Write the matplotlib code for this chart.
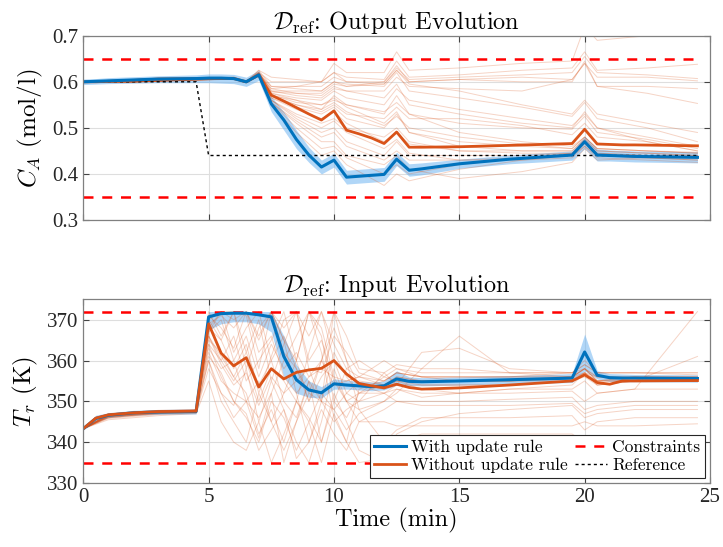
import numpy as np
import matplotlib
matplotlib.use("Agg")
import matplotlib.pyplot as plt

plt.rcParams["mathtext.fontset"] = "cm"
plt.rcParams["font.family"] = ["Liberation Serif", "DejaVu Serif"]

BLUE = "#0072BD"
ORANGE = "#D95319"

# ---- time grids ----
t_mean = [0, 0.5, 1, 2, 3, 4.5, 5, 5.5, 6, 6.5, 7, 7.5, 8, 8.5, 9, 9.5, 10, 10.5, 11, 11.5,
          12, 12.5, 13, 13.5, 15, 17, 19.5, 20, 20.5, 21, 21.5, 22, 24.5]
t_thin_top = [0, 2, 4.5, 6, 6.5, 7, 7.5, 8.5, 9.5, 10, 10.5, 12, 12.5, 13, 15, 17.5, 19.5, 20, 20.5, 22.5, 24.5]
t_thin_bot = [0, 1, 3, 4.5, 5, 5.5, 6, 6.5, 7, 7.5, 8, 8.5, 9, 9.5, 10, 10.5, 11, 12, 12.5, 13.5,
              15, 17, 19.5, 20, 20.5, 22, 24.5]

# ---- output C_A ----
ca_with = [0.600, 0.601, 0.602, 0.604, 0.606, 0.607, 0.608, 0.608, 0.607, 0.600, 0.615, 0.552, 0.517,
           0.475, 0.441, 0.415, 0.430, 0.393, 0.395, 0.397, 0.399, 0.432, 0.408, 0.411, 0.422, 0.432,
           0.441, 0.470, 0.441, 0.440, 0.439, 0.438, 0.436]
ca_with_lo = [0.594, 0.595, 0.596, 0.597, 0.598, 0.598, 0.598, 0.597, 0.596, 0.590, 0.603, 0.535, 0.495,
              0.455, 0.425, 0.400, 0.415, 0.378, 0.380, 0.382, 0.384, 0.418, 0.395, 0.398, 0.412, 0.422,
              0.430, 0.455, 0.428, 0.428, 0.427, 0.426, 0.424]
ca_with_hi = [0.606, 0.607, 0.609, 0.611, 0.613, 0.615, 0.617, 0.617, 0.616, 0.610, 0.625, 0.568, 0.535,
              0.495, 0.458, 0.430, 0.445, 0.408, 0.410, 0.412, 0.414, 0.447, 0.422, 0.424, 0.432, 0.441,
              0.450, 0.482, 0.454, 0.452, 0.451, 0.450, 0.448]
ca_without = [0.600, 0.600, 0.601, 0.603, 0.606, 0.607, 0.607, 0.607, 0.607, 0.600, 0.615, 0.571, 0.558,
              0.544, 0.530, 0.517, 0.537, 0.495, 0.487, 0.478, 0.466, 0.491, 0.458, 0.458, 0.459, 0.462,
              0.466, 0.497, 0.465, 0.464, 0.463, 0.463, 0.461]

ca_runs = [
    [0.60, 0.602, 0.605, 0.61, 0.60, 0.625, 0.61, 0.605, 0.60, 0.64, 0.62, 0.62, 0.665, 0.625, 0.63, 0.64, 0.645, 0.72, 0.69, 0.70, 0.73],
    [0.60, 0.600, 0.606, 0.61, 0.602, 0.62, 0.60, 0.60, 0.60, 0.62, 0.61, 0.605, 0.645, 0.61, 0.615, 0.625, 0.63, 0.665, 0.625, 0.63, 0.638],
    [0.60, 0.603, 0.605, 0.607, 0.60, 0.618, 0.59, 0.585, 0.58, 0.60, 0.59, 0.60, 0.63, 0.605, 0.61, 0.615, 0.62, 0.655, 0.62, 0.615, 0.607],
    [0.60, 0.600, 0.604, 0.606, 0.598, 0.615, 0.585, 0.575, 0.575, 0.595, 0.59, 0.595, 0.625, 0.60, 0.605, 0.61, 0.605, 0.64, 0.61, 0.61, 0.602],
    [0.60, 0.601, 0.606, 0.608, 0.60, 0.62, 0.58, 0.57, 0.565, 0.585, 0.58, 0.58, 0.61, 0.59, 0.585, 0.58, 0.605, 0.64, 0.59, 0.575, 0.553],
    [0.60, 0.600, 0.605, 0.607, 0.598, 0.612, 0.575, 0.56, 0.55, 0.56, 0.55, 0.535, 0.555, 0.53, 0.51, 0.50, 0.497, 0.525, 0.49, 0.475, 0.455],
    [0.60, 0.601, 0.605, 0.608, 0.60, 0.616, 0.57, 0.55, 0.535, 0.55, 0.53, 0.52, 0.545, 0.52, 0.52, 0.505, 0.485, 0.51, 0.48, 0.47, 0.45],
    [0.60, 0.600, 0.604, 0.607, 0.60, 0.614, 0.565, 0.545, 0.53, 0.545, 0.52, 0.50, 0.53, 0.49, 0.47, 0.46, 0.455, 0.48, 0.455, 0.45, 0.445],
    [0.60, 0.599, 0.604, 0.606, 0.598, 0.613, 0.56, 0.53, 0.51, 0.52, 0.50, 0.48, 0.50, 0.47, 0.45, 0.45, 0.45, 0.475, 0.45, 0.445, 0.44],
    [0.60, 0.600, 0.605, 0.607, 0.60, 0.615, 0.555, 0.51, 0.47, 0.47, 0.44, 0.42, 0.44, 0.41, 0.39, 0.405, 0.425, 0.455, 0.43, 0.435, 0.43],
    [0.60, 0.601, 0.604, 0.606, 0.60, 0.614, 0.55, 0.49, 0.44, 0.45, 0.42, 0.375, 0.40, 0.385, 0.41, 0.43, 0.44, 0.465, 0.44, 0.44, 0.435],
    [0.60, 0.600, 0.605, 0.608, 0.598, 0.617, 0.56, 0.52, 0.49, 0.50, 0.47, 0.44, 0.47, 0.44, 0.44, 0.44, 0.445, 0.47, 0.445, 0.44, 0.44],
    [0.60, 0.600, 0.606, 0.607, 0.60, 0.618, 0.57, 0.56, 0.54, 0.57, 0.55, 0.53, 0.57, 0.53, 0.49, 0.47, 0.46, 0.48, 0.455, 0.45, 0.445],
    [0.60, 0.600, 0.605, 0.607, 0.60, 0.62, 0.585, 0.59, 0.59, 0.61, 0.60, 0.595, 0.625, 0.595, 0.58, 0.55, 0.53, 0.56, 0.53, 0.51, 0.49],
    [0.60, 0.600, 0.604, 0.608, 0.598, 0.617, 0.578, 0.575, 0.57, 0.59, 0.58, 0.565, 0.595, 0.55, 0.53, 0.51, 0.50, 0.535, 0.50, 0.48, 0.46],
    [0.60, 0.600, 0.605, 0.606, 0.60, 0.614, 0.565, 0.54, 0.52, 0.535, 0.51, 0.47, 0.49, 0.465, 0.45, 0.445, 0.445, 0.47, 0.44, 0.435, 0.435],
    [0.60, 0.601, 0.605, 0.607, 0.598, 0.615, 0.555, 0.515, 0.48, 0.49, 0.46, 0.43, 0.45, 0.43, 0.43, 0.435, 0.44, 0.46, 0.44, 0.435, 0.43],
    [0.60, 0.600, 0.606, 0.608, 0.60, 0.625, 0.59, 0.59, 0.60, 0.62, 0.60, 0.60, 0.635, 0.60, 0.605, 0.60, 0.60, 0.645, 0.59, 0.59, 0.585],
    [0.60, 0.601, 0.604, 0.607, 0.599, 0.616, 0.568, 0.55, 0.54, 0.555, 0.535, 0.505, 0.525, 0.50, 0.48, 0.465, 0.455, 0.48, 0.455, 0.45, 0.447],
    [0.60, 0.600, 0.605, 0.608, 0.60, 0.619, 0.575, 0.565, 0.56, 0.58, 0.565, 0.55, 0.585, 0.56, 0.54, 0.52, 0.505, 0.53, 0.50, 0.47, 0.45],
    [0.60, 0.600, 0.603, 0.606, 0.598, 0.613, 0.56, 0.525, 0.50, 0.515, 0.49, 0.455, 0.475, 0.445, 0.43, 0.43, 0.435, 0.46, 0.435, 0.43, 0.425],
    [0.60, 0.601, 0.606, 0.609, 0.60, 0.621, 0.58, 0.58, 0.58, 0.60, 0.595, 0.59, 0.62, 0.58, 0.565, 0.545, 0.525, 0.555, 0.52, 0.50, 0.47],
    [0.60, 0.600, 0.605, 0.607, 0.60, 0.617, 0.572, 0.555, 0.55, 0.565, 0.545, 0.51, 0.535, 0.49, 0.46, 0.45, 0.45, 0.475, 0.45, 0.445, 0.44],
    [0.60, 0.599, 0.604, 0.606, 0.598, 0.612, 0.555, 0.50, 0.455, 0.46, 0.435, 0.40, 0.42, 0.40, 0.42, 0.435, 0.445, 0.47, 0.445, 0.44, 0.437],
]

ref_t = [0, 4.5, 5, 24.5]
ref_ca = [0.6, 0.6, 0.44, 0.44]
ca_limits = [0.35, 0.65]

# ---- input T_r ----
tr_with = [343.3, 345.8, 346.6, 347.2, 347.4, 347.5, 370.7, 371.5, 371.6, 371.6, 371.2, 370.7, 361.0,
           355.3, 352.8, 352.1, 354.3, 354.0, 353.8, 353.6, 353.8, 355.5, 354.9, 354.8, 355.0, 355.3,
           355.7, 362.1, 356.4, 355.8, 355.7, 355.7, 355.6]
tr_with_lo = [343.0, 345.0, 346.0, 346.6, 346.8, 346.9, 367.5, 369.0, 369.5, 369.5, 369.0, 367.0, 356.0,
              352.0, 351.0, 350.8, 353.0, 353.0, 352.8, 352.6, 352.8, 354.0, 353.9, 353.8, 354.0, 354.3,
              354.6, 357.5, 355.5, 354.9, 354.8, 354.8, 354.7]
tr_with_hi = [343.6, 346.6, 347.2, 347.8, 348.0, 348.2, 372.0, 372.0, 372.0, 372.0, 372.0, 372.0, 366.0,
              359.0, 355.0, 353.6, 355.5, 355.2, 354.9, 354.7, 355.0, 357.5, 356.0, 355.8, 356.0, 356.3,
              356.8, 366.5, 357.5, 356.8, 356.7, 356.6, 356.5]
tr_without = [343.3, 345.9, 346.7, 347.2, 347.5, 347.6, 369.0, 361.8, 358.7, 360.7, 353.5, 358.0, 355.5,
              357.1, 357.7, 358.1, 360.0, 356.7, 354.4, 353.8, 353.3, 354.2, 353.4, 353.0, 353.3, 354.0,
              355.0, 356.5, 354.6, 354.2, 355.0, 355.0, 355.1]

tr_runs = [
    [343.3, 346.8, 347.6, 347.8, 371, 368, 363, 372, 365, 372, 362, 358, 350, 356, 360, 357, 354, 353, 355, 354, 354, 354, 355, 357, 355, 355, 355.5],
    [343.3, 346.2, 347.2, 347.5, 362, 355, 352, 350, 346, 352, 335, 345, 352, 350, 348, 352, 355, 354, 356, 355, 355, 355, 355, 356, 354, 355, 355],
    [343.3, 347.0, 347.8, 348.0, 370, 372, 372, 371, 358, 372, 365, 360, 372, 362, 346, 340, 353, 355, 357, 356, 356, 356, 357, 358, 356, 356, 356],
    [343.3, 345.8, 346.8, 347.2, 358, 352, 349, 358, 345, 355, 348, 340, 335, 345, 358, 350, 348, 350, 353, 351, 352, 353, 354, 357, 354, 355, 355],
    [343.3, 346.5, 347.5, 347.7, 368, 365, 358, 364, 352, 361, 370, 372, 366, 372, 364, 358, 356, 354, 356, 355, 355, 355, 356, 358, 355, 356, 356],
    [343.3, 346.3, 347.0, 347.4, 365, 362, 356, 352, 342, 348, 340, 350, 362, 372, 360, 352, 350, 357, 354, 354, 354, 354, 355, 357, 354, 355, 355.5],
    [343.3, 346.7, 347.6, 347.8, 366, 360, 355, 360, 350, 358, 355, 350, 345, 352, 348, 343, 347, 350, 352, 358, 366, 357, 356, 358, 355, 356, 355],
    [343.3, 346.0, 347.0, 347.3, 360, 350, 345, 340, 352, 345, 338, 345, 355, 350, 372, 360, 348, 340, 343, 346, 346, 346, 346.5, 343, 345, 346, 346],
    [343.3, 346.4, 347.3, 347.6, 363, 358, 360, 350, 355, 345, 352, 360, 372, 366, 350, 346, 352, 352, 350, 350, 350, 350.5, 351, 348, 349, 350, 350],
    [343.3, 345.5, 346.5, 347.0, 355, 345, 340, 338, 345, 335, 342, 350, 346, 340, 352, 345, 338, 335, 340, 342, 342, 342, 342, 340, 341, 341, 341],
    [343.3, 346.9, 347.7, 347.9, 372, 366, 372, 362, 370, 355, 364, 372, 360, 365, 355, 350, 352, 356, 355, 353, 352, 352, 352.5, 350, 352, 353, 372],
    [343.3, 346.6, 347.4, 347.7, 367, 370, 360, 366, 356, 364, 358, 362, 356, 360, 354, 355, 356, 355, 357, 356, 356, 356, 356, 357, 356, 355, 361],
    [343.3, 346.1, 347.1, 347.5, 361, 357, 350, 346, 340, 350, 346, 338, 345, 335, 347, 340, 335, 336, 342, 345, 347, 348, 349, 346, 347, 348, 348],
    [343.3, 346.5, 347.5, 347.7, 369, 371, 368, 372, 362, 366, 356, 352, 356, 358, 356, 355, 356, 360, 358, 357, 357, 357, 357, 360, 357, 357, 356.5],
    [343.3, 346.7, 347.4, 347.7, 366, 359, 354, 357, 349, 356, 352, 355, 358, 357, 366, 362, 357, 355, 357, 356, 355, 355, 356, 358, 355, 355, 355],
    [343.3, 346.3, 347.2, 347.5, 364, 356, 350, 347, 338, 343, 348, 336, 340, 348, 342, 338, 345, 345, 344, 344, 344, 344, 344, 345, 344, 344, 344.5],
    [343.3, 346.4, 347.3, 347.6, 370, 365, 372, 358, 368, 372, 365, 352, 340, 350, 362, 356, 352, 354, 355, 355, 355, 355, 355.5, 357, 355, 355, 355],
    [343.3, 346.8, 347.5, 347.8, 367, 372, 362, 368, 372, 360, 350, 346, 355, 340, 350, 358, 360, 356, 358, 356, 356, 356, 356, 358, 356, 356, 356],
    [343.3, 346.2, 347.3, 347.6, 364, 360, 366, 355, 360, 365, 372, 360, 350, 360, 372, 366, 358, 357, 359, 358, 358, 357, 357, 359, 357, 357, 357],
    [343.3, 346.6, 347.4, 347.7, 368, 372, 370, 372, 366, 372, 368, 372, 358, 350, 345, 348, 350, 352, 353, 352, 352, 353, 353, 355, 352, 353, 353],
    [343.3, 346.0, 347.1, 347.4, 360, 352, 346, 350, 341, 352, 360, 366, 372, 368, 356, 350, 345, 348, 350, 349, 349, 349, 349.5, 347, 348, 349, 349],
    [343.3, 346.5, 347.5, 347.7, 366, 361, 356, 362, 354, 360, 366, 358, 352, 360, 368, 360, 354, 352, 354, 362, 363, 358, 357, 359, 357, 357, 357],
]
tr_limits = [335, 372]
t_limit = [0, 24.5]

fig = plt.figure(figsize=(7.23, 5.47), dpi=100)
ax1 = fig.add_axes([0.1152, 0.5978, 0.8668, 0.3369])
ax2 = fig.add_axes([0.1152, 0.1170, 0.8668, 0.3358])

CM = "cmr10"


def style(ax):
    ax.set_xlim(0, 25)
    ax.set_xticks([0, 5, 10, 15, 20, 25])
    ax.grid(True, color="#dedede", linewidth=0.8)
    ax.set_axisbelow(True)
    ax.tick_params(direction="in", top=True, right=True, labelsize=15, length=4,
                   color="#444444", labelcolor="#262626")
    for s in ax.spines.values():
        s.set_color("#808080")
        s.set_linewidth(0.9)


# top panel
for run in ca_runs:
    ax1.plot(t_thin_top, run, color=ORANGE, alpha=0.25, lw=0.7)
ax1.fill_between(t_mean, ca_with_lo, ca_with_hi, color="#6fb5f2", alpha=0.55, lw=0)
ax1.plot(ref_t, ref_ca, color="black", ls=(0, (2.2, 2.2)), lw=1)
for c in ca_limits:
    ax1.plot(t_limit, [c, c], color="red", ls=(0, (4, 3.5)), lw=1.8)
ax1.plot(t_mean, ca_without, color=ORANGE, lw=2)
ax1.plot(t_mean, ca_with, color=BLUE, lw=2.2)
style(ax1)
ax1.set_ylim(0.3, 0.7)
ax1.set_yticks([0.3, 0.4, 0.5, 0.6, 0.7])
ax1.set_yticklabels(["0.3", "0.4", "0.5", "0.6", "0.7"])
ax1.set_xticklabels([])
ax1.set_ylabel(r"$C_A$ (mol/l)", fontsize=18, family=CM, labelpad=5)
ax1.set_title(r"$\mathcal{D}_{\mathrm{ref}}$: Output Evolution", fontsize=17.5, family=CM, pad=5)

# bottom panel
for run in tr_runs:
    ax2.plot(t_thin_bot, run, color=ORANGE, alpha=0.25, lw=0.7)
ax2.fill_between(t_mean, tr_with_lo, tr_with_hi, color="#6fb5f2", alpha=0.55, lw=0)
for c in tr_limits:
    ax2.plot(t_limit, [c, c], color="red", ls=(0, (4, 3.5)), lw=1.8)
l_with, = ax2.plot(t_mean, tr_with, color=BLUE, lw=2.2)
l_without, = ax2.plot(t_mean, tr_without, color=ORANGE, lw=2)
l_con, = ax2.plot([], [], color="red", ls=(0, (4, 3.5)), lw=1.8)
l_ref, = ax2.plot([], [], color="black", ls=(0, (2.2, 2.2)), lw=1)
style(ax2)
ax2.set_ylim(330, 375)
ax2.set_yticks([330, 340, 350, 360, 370])
ax2.set_ylabel(r"$T_r$ (K)", fontsize=18, family=CM, labelpad=5)
ax2.set_xlabel("Time (min)", fontsize=17.5, family=CM, labelpad=1)
ax2.set_title(r"$\mathcal{D}_{\mathrm{ref}}$: Input Evolution", fontsize=17.5, family=CM, pad=5)

leg = ax2.legend([l_with, l_without, l_con, l_ref],
                 ["With update rule", "Without update rule", "Constraints", "Reference"],
                 ncol=2, loc="lower right", prop={"family": CM, "size": 12.5},
                 fancybox=False, framealpha=1, edgecolor="#262626", borderpad=0.25,
                 handlelength=1.85, handletextpad=0.3, columnspacing=0.4, labelspacing=0.15,
                 borderaxespad=0.3)
leg.get_frame().set_linewidth(0.8)

fig.savefig("out.png", dpi=100)
